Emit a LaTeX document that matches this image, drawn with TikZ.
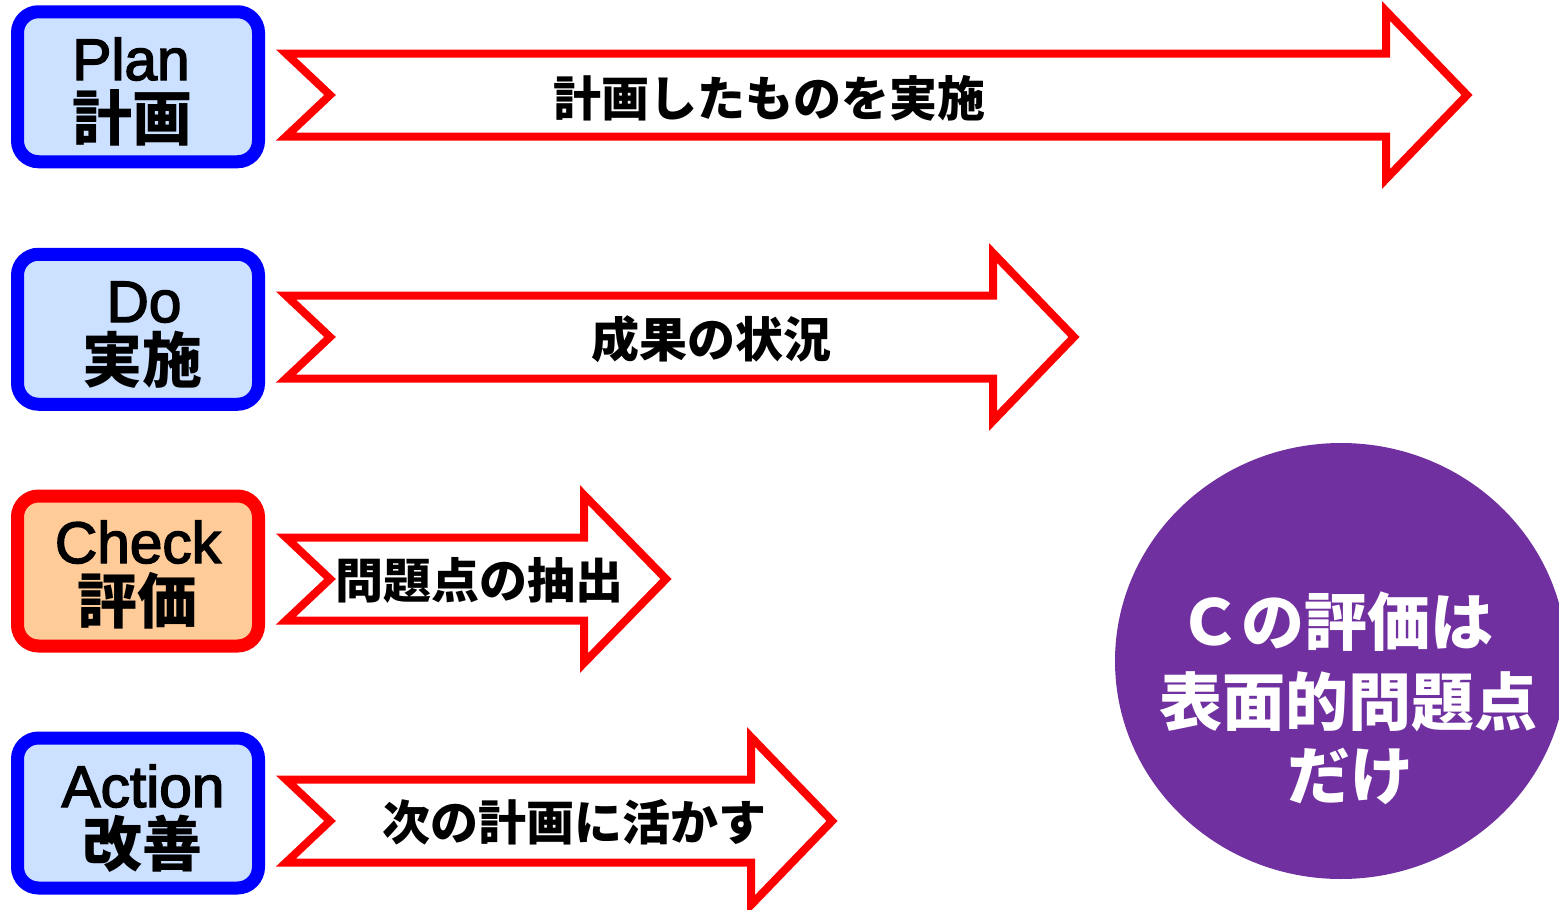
\documentclass[tikz,border=0pt]{standalone}
\usepackage{fontspec}
\usetikzlibrary{shapes.geometric}
\newfontfamily\jp{Noto Sans CJK JP}
\newfontfamily\lat{Liberation Sans}[FakeBold=2.5]
\definecolor{boxblue}{HTML}{0000FF}
\definecolor{boxfill}{HTML}{CCE0FF}
\definecolor{chkfill}{HTML}{FFCC99}
\definecolor{arrred}{HTML}{FF0000}
\definecolor{circpurple}{HTML}{7030A0}
\begin{document}
\begin{tikzpicture}[x=0.5pt,y=-0.5pt,
  box/.style={draw=boxblue, fill=boxfill, line width=6.5pt, rounded corners=10.5pt,
    minimum width=120.5pt, minimum height=75pt, inner sep=0pt},
  chkbox/.style={box, draw=arrred, fill=chkfill},
  lattext/.style={font=\lat\fontsize{29.3}{34}\selectfont, anchor=base, inner sep=0pt,
    text depth=0pt},
  boxjp/.style={font=\jp\bfseries\fontsize{30}{36}\selectfont, anchor=center, inner sep=0pt,
    text height=22pt, text depth=0pt},
  arrtext/.style={font=\jp\bfseries\fontsize{24}{28}\selectfont, anchor=center, inner sep=0pt,
    text height=18.4pt, text depth=0pt},
  circtext/.style={font=\jp\bfseries\fontsize{31.5}{38}\selectfont, text=white, anchor=center, inner sep=0pt,
    text height=24pt, text depth=0pt},
  fatarrow/.style={draw=arrred, fill=white, line width=4pt, miter limit=10}]
\useasboundingbox (0,0) rectangle (1559,910);

% boxes
\node[box] (pbox) at (138,86.75) {};
\node[box] (dbox) at (138,329.25) {};
\node[chkbox] (cbox) at (138,571) {};
\node[box] (abox) at (138,813) {};

\node[lattext] (ptxt) at (131,80) {Plan};
\node[boxjp] (pjp) at (132,118) {計画};
\node[lattext] (dtxt) at (144,322) {Do};
\node[boxjp] (djp) at (143,360) {実施};
\node[lattext] (ctxt) at (138,563) {Check};
\node[boxjp] (cjp) at (137,601) {評価};
\node[lattext] (atxt) at (143,807) {Action};
\node[boxjp] (ajp) at (143,844) {改善};

% arrows
\draw[fatarrow] (286,53.5) -- (1386,53.5) -- (1386,11) -- (1467,95) -- (1386,179) -- (1386,136.5) -- (286,136.5) -- (330,95) -- cycle;
\draw[fatarrow] (286,295.5) -- (993,295.5) -- (993,253) -- (1074,337) -- (993,421) -- (993,378.5) -- (286,378.5) -- (330,337) -- cycle;
\draw[fatarrow] (286,537.5) -- (584,537.5) -- (584,495) -- (666,579) -- (584,663) -- (584,620.5) -- (286,620.5) -- (330,579) -- cycle;
\draw[fatarrow] (286,779.5) -- (751,779.5) -- (751,737) -- (832,821) -- (751,905) -- (751,862.5) -- (286,862.5) -- (330,821) -- cycle;

\node[arrtext] (t1) at (769,98) {計画したものを実施};
\node[arrtext] (t2) at (711,339) {成果の状況};
\node[arrtext] (t3) at (479,580) {問題点の抽出};
\node[arrtext] (t4) at (574,822) {次の計画に活かす};

% circle
\node[ellipse, fill=circpurple, minimum width=226pt, minimum height=218pt, inner sep=0pt] (circ) at (1341,661) {};
\node[circtext] (c1) at (1336,621) {Ｃの評価は};
\node[circtext] (c2) at (1348,701) {表面的問題点};
\node[circtext] (c3) at (1350,775) {だけ};
\end{tikzpicture}
\end{document}
